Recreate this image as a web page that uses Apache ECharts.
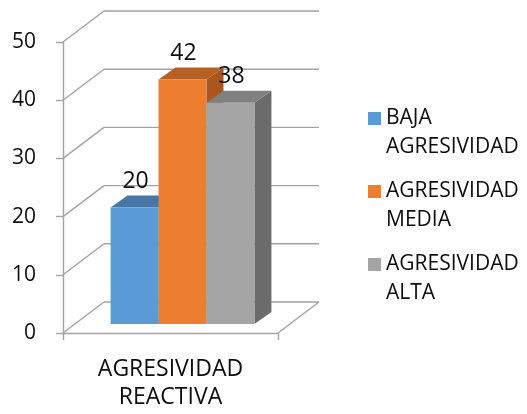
<!DOCTYPE html>
<html>
<head>
<meta charset="utf-8">
<script src="https://cdn.jsdelivr.net/npm/echarts@6/dist/echarts.min.js"></script>
<style>
  html, body { margin: 0; padding: 0; background: #fff; }
  #chart { width: 527px; height: 414px; }
</style>
</head>
<body>
<div id="chart"></div>
<script>
// Data
const categories = ['AGRESIVIDAD\nREACTIVA'];
const seriesNames = ['BAJA\nAGRESIVIDAD', 'AGRESIVIDAD\nMEDIA', 'AGRESIVIDAD\nALTA'];
const bajaValues = [20];
const mediaValues = [42];
const altaValues = [38];
const yTicks = [0, 10, 20, 30, 40, 50];

// Styling
const FONT = '"Open Sans", sans-serif';
const TEXT_COLOR = '#0d0d0d';
const GRID_COLOR = '#a3a3a3';
const palette = [
  { front: '#5b9bd5', top: '#4677a7', side: '#41709c' },
  { front: '#ed7d31', top: '#b85f24', side: '#a9561f' },
  { front: '#a5a5a5', top: '#808080', side: '#6b6b6b' }
];
const WALL = [41, -31];       // offset of the back wall from the front plane
const BAR_PLANE = [12, -9];   // offset of the bars' front faces
const BAR_DEPTH = [17, -12];  // thickness of each box
const BAR_SHARE = 0.223;      // share of the category band taken by one bar
const FIRST_BAR_SERIES = 1;

// Back wall, side wall and floor of the 3D frame, one gridline per tick
function renderWalls(params, api) {
  const cs = params.coordSys;
  const v = api.value(1);
  const y = api.coord([0, v])[1];
  const bx = cs.x + WALL[0];
  const by = y + WALL[1];
  const style = { stroke: GRID_COLOR, lineWidth: 1.4 };
  const children = [
    { type: 'line', shape: { x1: cs.x, y1: y, x2: bx, y2: by }, style },
    { type: 'line', shape: { x1: bx, y1: by, x2: cs.x + cs.width + WALL[0], y2: by }, style }
  ];
  if (v === yTicks[0]) {
    children.push({ type: 'line', shape: { x1: cs.x + cs.width, y1: y, x2: cs.x + cs.width + WALL[0], y2: by }, style });
  }
  return { type: 'group', children };
}

// A shaded box with its value written above it
function renderBar(params, api) {
  const i = params.seriesIndex - FIRST_BAR_SERIES;
  const v = api.value(1);
  const base = api.coord([api.value(0), 0]);
  const top = api.coord([api.value(0), v]);
  const band = api.size([1, 0])[0];
  const bw = band * BAR_SHARE;
  const x0 = base[0] + BAR_PLANE[0] - 1.5 * bw + i * bw;
  const x1 = x0 + bw;
  const yb = base[1] + BAR_PLANE[1];
  const yt = top[1] + BAR_PLANE[1];
  const dx = BAR_DEPTH[0], dy = BAR_DEPTH[1];
  const c = palette[i];
  return {
    type: 'group',
    children: [
      { type: 'polygon', shape: { points: [[x1, yb], [x1 + dx, yb + dy], [x1 + dx, yt + dy], [x1, yt]] }, style: { fill: c.side } },
      { type: 'polygon', shape: { points: [[x0, yt], [x0 + dx, yt + dy], [x1 + dx, yt + dy], [x1, yt]] }, style: { fill: c.top } },
      { type: 'rect', shape: { x: x0, y: yt, width: bw, height: yb - yt }, style: { fill: c.front } },
      {
        type: 'text', x: (x0 + x1) / 2 + 1, y: yt - 26, z2: 10,
        style: { text: String(v), fontFamily: FONT, fontSize: 23, fill: TEXT_COLOR, align: 'center', verticalAlign: 'middle' }
      }
    ]
  };
}

const valueSets = [bajaValues, mediaValues, altaValues];

const chart = echarts.init(document.getElementById('chart'), null, { renderer: 'canvas' });
chart.setOption({
  animation: false,
  backgroundColor: '#fff',
  grid: { left: 63, top: 42, width: 215, height: 291 },
  legend: {
    orient: 'vertical',
    left: 368,
    top: 75,
    itemWidth: 13,
    itemHeight: 13,
    itemGap: -14,
    icon: 'rect',
    selectedMode: false,
    padding: 0,
    data: seriesNames,
    formatter: name => '\n' + name,
    textStyle: { fontFamily: FONT, fontSize: 21, lineHeight: 29, color: TEXT_COLOR }
  },
  xAxis: {
    type: 'category',
    data: categories,
    axisLine: { lineStyle: { color: GRID_COLOR, width: 1.4 } },
    axisTick: { show: true, length: 7, lineStyle: { color: GRID_COLOR, width: 1.4 } },
    axisLabel: { fontFamily: FONT, fontSize: 23, lineHeight: 28.5, color: TEXT_COLOR, margin: 22 }
  },
  yAxis: {
    type: 'value',
    min: yTicks[0],
    max: yTicks[yTicks.length - 1],
    interval: yTicks[1] - yTicks[0],
    axisLine: { show: true, lineStyle: { color: GRID_COLOR, width: 1.4 } },
    axisTick: { show: true, length: 7, lineStyle: { color: GRID_COLOR, width: 1.4 } },
    splitLine: { show: false },
    axisLabel: { fontFamily: FONT, fontSize: 21, color: TEXT_COLOR, margin: 27 }
  },
  series: [
    {
      type: 'custom',
      silent: true,
      renderItem: renderWalls,
      encode: { x: 0, y: 1 },
      data: yTicks.map(v => [0, v]),
      z: 1
    }
  ].concat(valueSets.map((vals, i) => ({
    type: 'custom',
    name: seriesNames[i],
    itemStyle: { color: palette[i].front },
    renderItem: renderBar,
    encode: { x: 0, y: 1 },
    data: vals.map((v, k) => [k, v]),
    z: 2
  })))
});
</script>
</body>
</html>
